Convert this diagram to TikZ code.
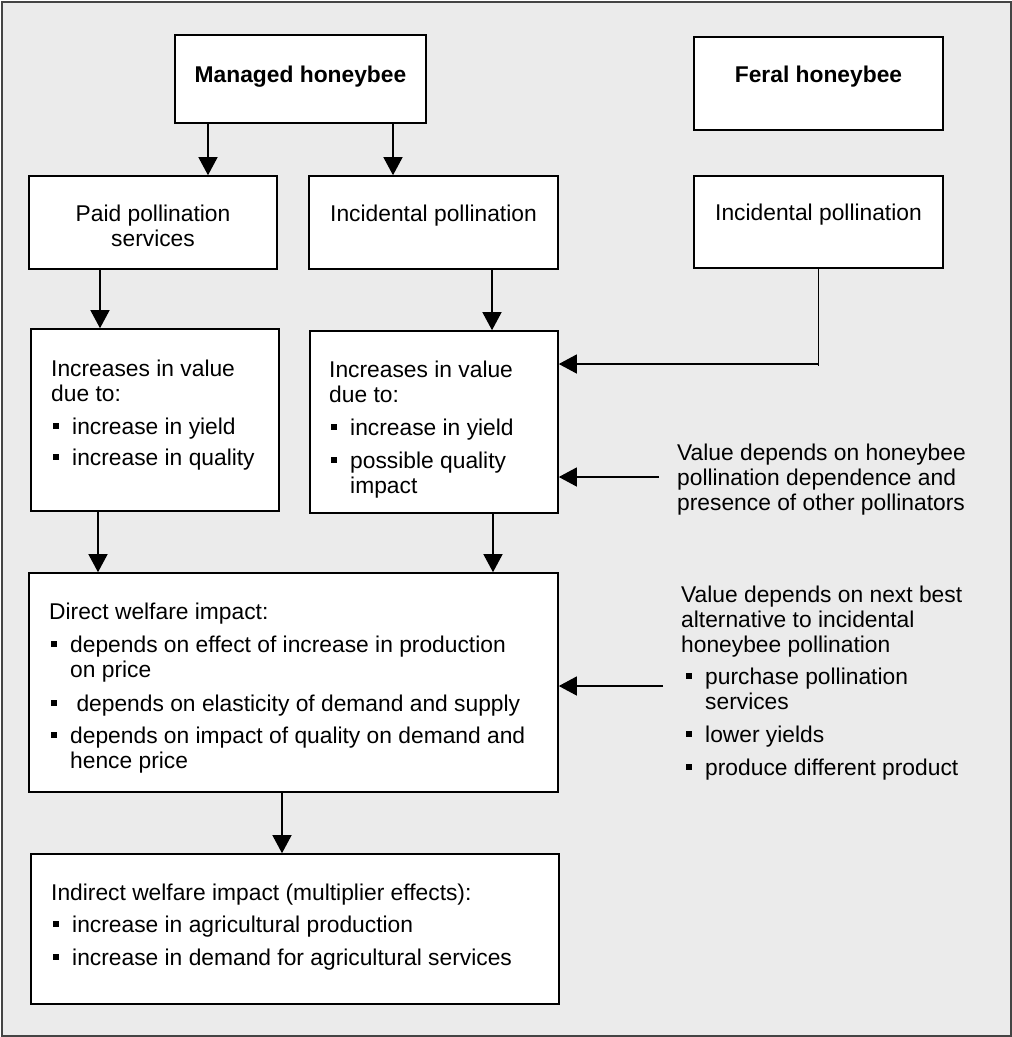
\documentclass[tikz,border=0pt]{standalone}
\usepackage{fontspec}
\setmainfont{Liberation Sans}
\usetikzlibrary{arrows.meta,fit}
\definecolor{bggray}{HTML}{EBEBEB}
\definecolor{framegray}{HTML}{444444}
\newcommand\bul{\hspace*{2pt}\makebox[19pt][l]{\rule[5.5pt]{6pt}{6pt}}}
\newcommand\cont{\hspace*{21pt}}
\tikzset{
  every node/.style={font=\fontsize{22.8}{25}\selectfont},
  box/.style={draw=black, line width=1.6pt, fill=white, inner sep=0pt},
  txt/.style={inner sep=0pt, anchor=base west},
  ctxt/.style={inner sep=0pt, anchor=base},
  arr/.style={line width=1.3pt, -{Triangle[width=19pt,length=18pt]}},
  ln/.style={line width=1.3pt},
}
\begin{document}
\begin{tikzpicture}[x=1pt,y=-1pt]
\useasboundingbox (0,0) rectangle (1012,1037);
\draw[fill=bggray, draw=framegray, line width=1.3pt] (2,2) rectangle (1011,1036);

% boxes
\node[box, fit={(175,35) (426,123)}] (mh) {};
\node[box, fit={(694,37) (943,130)}] (fh) {};
\node[box, fit={(29,176) (277,269)}] (paid) {};
\node[box, fit={(309,176) (558,269)}] (incm) {};
\node[box, fit={(694,176) (943,268)}] (incr) {};
\node[box, fit={(31,329) (279,511)}] (valL) {};
\node[box, fit={(310,331) (558,513)}] (valM) {};
\node[box, fit={(29,573) (558,792)}] (direct) {};
\node[box, fit={(31,854) (559,1004)}] (indirect) {};

% texts
\node[ctxt] (mht) at (300.5,82) {\bfseries Managed honeybee};
\node[ctxt] (fht) at (818.5,82.5) {\bfseries Feral honeybee};
\node[ctxt] (paidt) at (153,221.7) {\parbox[t]{240pt}{\centering Paid pollination\\services}};
\node[ctxt] (incmt) at (433.5,221.7) {Incidental pollination};
\node[ctxt] (incrt) at (818.5,220.7) {Incidental pollination};

\node[txt] (valLt) at (51,376) {\parbox[t]{400pt}{\raggedright
  Increases in value\\due to:\\[8pt]
  \bul increase in yield\\[6pt]
  \bul increase in quality}};
\node[txt] (valMt) at (329,377.5) {\parbox[t]{400pt}{\raggedright
  Increases in value\\due to:\\[8pt]
  \bul increase in yield\\[8pt]
  \bul possible quality\\\cont impact}};
\node[txt] (directt) at (49,619.3) {\parbox[t]{600pt}{\raggedright
  Direct welfare impact:\\[8pt]
  \bul depends on effect of increase in production\\\cont on price\\[9pt]
  \bul\ depends on elasticity of demand and supply\\[7pt]
  \bul depends on impact of quality on demand and\\\cont hence price}};
\node[txt] (indirectt) at (51,900.7) {\parbox[t]{600pt}{\raggedright
  Indirect welfare impact (multiplier effects):\\[7pt]
  \bul increase in agricultural production\\[8pt]
  \bul increase in demand for agricultural services}};
\node[txt] (vt1) at (677,460) {\parbox[t]{400pt}{\raggedright
  Value depends on honeybee\\pollination dependence and\\presence of other pollinators}};
\node[txt] (vt2) at (681,602.7) {\parbox[t]{400pt}{\raggedright
  Value depends on next best\\alternative to incidental\\honeybee pollination\\[7pt]
  \hspace*{3pt}\bul purchase pollination\\\hspace*{3pt}\cont services\\[8pt]
  \hspace*{3pt}\bul lower yields\\[8pt]
  \hspace*{3pt}\bul produce different product}};

% connector positions
\coordinate (xa) at (208,0);
\coordinate (xb) at (393,0);
\coordinate (xc) at (100,0);
\coordinate (xd) at (492,0);
\coordinate (xe) at (98,0);
\coordinate (xf) at (493,0);
\coordinate (xg) at (282,0);
\coordinate (ya) at (0,364);
\coordinate (s1) at (659,477);
\coordinate (s2) at (663,686);

% connectors
\draw[arr] (mh.south -| xa) -- (paid.north -| xa);
\draw[arr] (mh.south -| xb) -- (incm.north -| xb);
\draw[arr] (paid.south -| xc) -- (valL.north -| xc);
\draw[arr] (incm.south -| xd) -- (valM.north -| xd);
\draw[arr] (valL.south -| xe) -- (direct.north -| xe);
\draw[arr] (valM.south -| xf) -- (direct.north -| xf);
\draw[arr] (direct.south -| xg) -- (indirect.north -| xg);
\draw[ln] (incr.south) -- ([yshift=-2pt]incr.south |- ya);
\draw[arr] (incr.south |- ya) -- (valM.east |- ya);
\draw[arr] (s1) -- (s1 -| valM.east);
\draw[arr] (s2) -- (s2 -| direct.east);
\end{tikzpicture}
\end{document}
